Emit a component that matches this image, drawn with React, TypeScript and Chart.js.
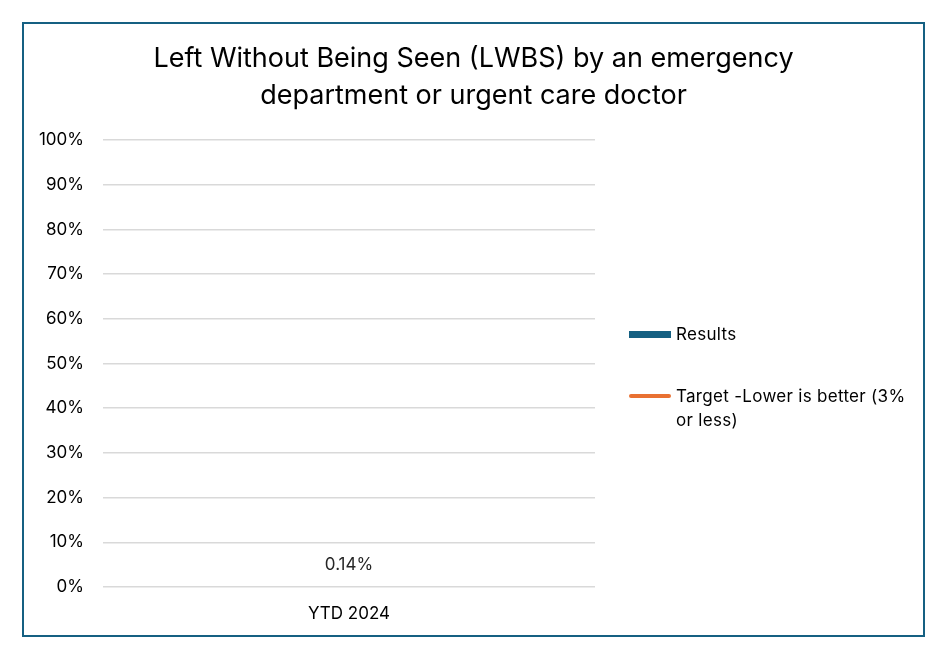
import { useEffect, useRef } from 'react'
import { Chart, registerables } from 'chart.js'

Chart.register(...registerables)

const titleLines = ['Left Without Being Seen (LWBS) by an emergency', 'department or urgent care doctor']
const categories = ['YTD 2024']
const results = [0.14]
const target = [3]
const seriesNames = ['Results', 'Target -Lower is better (3% or less)']
const yMax = 100
const yStep = 10

const FONT = 'Inter, sans-serif'
const BLUE = '#156082'
const ORANGE = '#E97132'

// title centred on the whole canvas, not only the plot area
const centredTitle = {
  id: 'centredTitle',
  afterDraw(chart: any) {
    const ctx = chart.ctx
    ctx.save()
    ctx.font = `27px ${FONT}`
    ctx.fillStyle = '#000'
    ctx.textAlign = 'center'
    ctx.textBaseline = 'middle'
    titleLines.forEach((t, i) => ctx.fillText(t, chart.width / 2, 35 + i * 37))
    ctx.restore()
  },
}

// draws the value above each bar (no datalabels plugin available)
const valueLabels = {
  id: 'valueLabels',
  afterDatasetsDraw(chart: any) {
    const ctx = chart.ctx
    const meta = chart.getDatasetMeta(0)
    ctx.save()
    ctx.font = `17px ${FONT}`
    ctx.fillStyle = '#262626'
    ctx.textAlign = 'center'
    ctx.textBaseline = 'middle'
    meta.data.forEach((el: any, i: number) => {
      ctx.fillText(results[i].toFixed(2) + '%', el.x, el.y - 21)
    })
    ctx.restore()
  },
}

export default function App() {
  const canvasRef = useRef<HTMLCanvasElement>(null)

  useEffect(() => {
    if (!canvasRef.current) return
    Chart.defaults.font.family = FONT
    const chart = new Chart(canvasRef.current, {
      type: 'bar',
      data: {
        labels: categories,
        datasets: [
          { type: 'bar', label: seriesNames[0], data: results, backgroundColor: BLUE, order: 2 },
          {
            type: 'line', label: seriesNames[1], data: target, borderColor: ORANGE, borderWidth: 3,
            pointRadius: 0, order: 1,
          },
        ],
      },
      options: {
        animation: false,
        responsive: true,
        maintainAspectRatio: false,
        layout: { padding: { left: 0, right: 328, top: 116, bottom: 0 } },
        plugins: {
          legend: { display: false },
          tooltip: { enabled: false },
          title: { display: false },
        },
        scales: {
          x: {
            grid: { display: false, drawTicks: false },
            border: { display: false },
            ticks: { color: '#000', font: { size: 17 }, padding: 17 },
            afterFit: (s: any) => { s.height = 48 },
          },
          y: {
            min: 0, max: yMax,
            grid: { color: '#d9d9d9', lineWidth: 1.5, drawTicks: false },
            border: { display: false },
            ticks: { stepSize: yStep, color: '#000', font: { size: 17 }, padding: 19, callback: (v: any) => v + '%' },
            afterFit: (s: any) => { s.width = 79 },
          },
        },
      },
      plugins: [valueLabels, centredTitle],
    })
    return () => chart.destroy()
  }, [])

  return (
    <div style={{
      position: 'absolute', left: 22, top: 22, width: 903, height: 615,
      border: `2px solid ${BLUE}`, boxSizing: 'border-box', background: '#fff', fontFamily: FONT,
    }}>
      <div style={{ position: 'absolute', left: 0, top: 0, width: 899, height: 611 }}>
        <canvas ref={canvasRef} />
      </div>
      <div style={{
        position: 'absolute', left: 605, top: 298, width: 284, fontSize: 17, color: '#000',
        lineHeight: '24px', letterSpacing: '0.3px',
      }}>
        <div style={{ display: 'flex', alignItems: 'flex-start' }}>
          <span style={{ width: 42, height: 7, background: BLUE, marginTop: 8.5, flexShrink: 0 }} />
          <span style={{ marginLeft: 5 }}>{seriesNames[0]}</span>
        </div>
        <div style={{ display: 'flex', alignItems: 'flex-start', marginTop: 38 }}>
          <span style={{ width: 42, height: 4, borderRadius: 2, background: ORANGE, marginTop: 10, flexShrink: 0 }} />
          <span style={{ marginLeft: 5 }}>{seriesNames[1]}</span>
        </div>
      </div>
    </div>
  )
}
